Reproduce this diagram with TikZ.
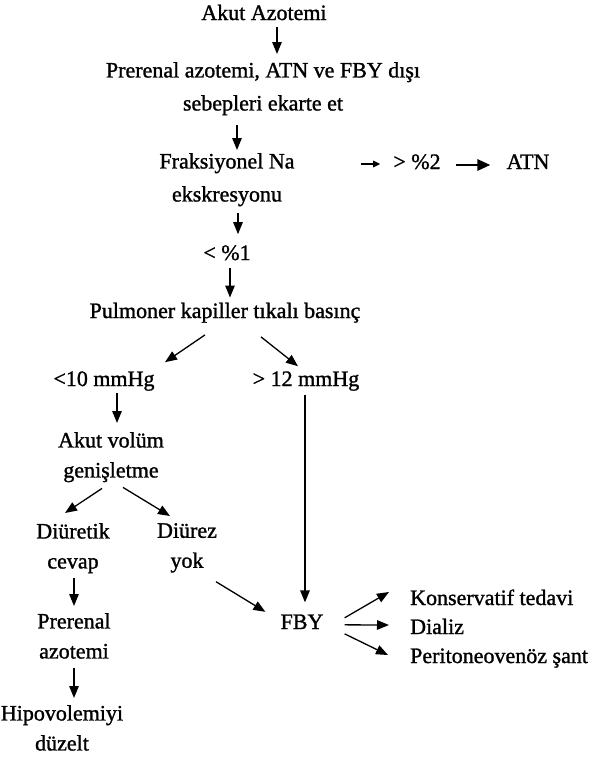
\documentclass[tikz,border=0pt]{standalone}
\usepackage{fontspec}
\setmainfont{Liberation Serif}[UprightFeatures={FakeBold=1.2}]
\usetikzlibrary{arrows.meta}
\tikzset{
  fc label/.style={font=\fontsize{22}{30}\selectfont, inner sep=2pt, anchor=base},
  fc block/.style={font=\fontsize{22}{30}\selectfont, inner sep=2pt,
    align=center, anchor=north},
  fc block wide/.style={fc block, font=\fontsize{22}{33}\selectfont},
  fc arrow/.style={-{Triangle[length=12pt,width=9.5pt]}, line width=1.3pt},
  fc short arrow/.style={-{Triangle[length=7pt,width=6.5pt]}, line width=1.2pt},
  fc heavy arrow/.style={-{Triangle[length=13pt,width=11pt]}, line width=2.8pt}
}

\begin{document}
\begin{tikzpicture}[x=1pt,y=-1pt]
\useasboundingbox (0,0) rectangle (609,758);
% main chain
\node[fc label] (akut) at (264,20) {Akut Azotemi};
\node[fc block wide] (ekarte) at (263,60) {Prerenal azotemi, ATN ve FBY dışı\\sebepleri ekarte et};
\node[fc block wide] (fena) at (227,151) {Fraksiyonel Na\\ekskresyonu};
\node[fc label] (gt2) at (417,169) {> \%2};
\node[fc label] (atn) at (528,169) {ATN};
\node[fc label] (lt1) at (227,260) {< \%1};
\node[fc label] (pkb) at (225,318) {Pulmoner kapiller tıkalı basınç};
\node[fc label] (lo10) at (104,386) {<10 mmHg};
\node[fc label] (hi12) at (306,386) {> 12 mmHg};
% left branch
\node[fc block] (avg) at (111,430) {Akut volüm\\genişletme};
\node[fc block] (dcev) at (73,521) {Diüretik\\cevap};
\node[fc block] (dyok) at (187,521) {Diürez\\yok};
\node[fc block] (pren) at (74,611) {Prerenal\\azotemi};
\node[fc block] (hipo) at (62,703) {Hipovolemiyi\\düzelt};
% right branch
\node[fc label] (fby) at (302,629) {FBY};
\node[fc label, anchor=base west] (kons) at (408,605) {Konservatif tedavi};
\node[fc label, anchor=base west] (dial) at (408,634) {Dializ};
\node[fc label, anchor=base west] (peri) at (408,663) {Peritoneovenöz şant};

\draw[fc arrow] ([xshift=13pt,yshift=-5pt]akut.south) -- ([xshift=14pt,yshift=6pt]ekarte.north);
\draw[fc arrow] ([xshift=-26pt,yshift=-8pt]ekarte.south) -- ([xshift=10pt,yshift=1pt]fena.north);
\draw[fc short arrow] ([xshift=64pt,yshift=-13pt]fena.north east) -- ([xshift=-11pt,yshift=5pt]gt2.base west);
\draw[fc heavy arrow] ([xshift=13pt,yshift=4pt]gt2.base east) -- ([xshift=-14pt,yshift=4pt]atn.base west);
\draw[fc arrow] ([xshift=11pt,yshift=-5pt]fena.south) -- ([xshift=11pt,yshift=9pt]lt1.north);
\draw[fc arrow] ([xshift=3pt,yshift=-6pt]lt1.south) -- ([xshift=5pt,yshift=3pt]pkb.north);
\draw[fc arrow] ([xshift=-20pt,yshift=-10pt]pkb.south) -- ([xshift=61pt,yshift=7pt]lo10.north);
\draw[fc arrow] ([xshift=36pt,yshift=-12pt]pkb.south) -- ([xshift=-8pt,yshift=3pt]hi12.north);
\draw[fc arrow] ([xshift=13pt]lo10.south) -- ([xshift=6pt,yshift=7pt]avg.north);
\draw[fc arrow] ([xshift=-9pt,yshift=-4pt]avg.south) -- ([xshift=-8pt,yshift=8pt]dcev.north);
\draw[fc arrow] ([xshift=12pt,yshift=-3pt]avg.south) -- ([xshift=-17pt,yshift=5pt]dyok.north);
\draw[fc arrow] ([xshift=1pt,yshift=-3pt]dcev.south) -- ([yshift=5pt]pren.north);
\draw[fc arrow] ([yshift=-7pt]pren.south) -- ([xshift=12pt,yshift=5pt]hipo.north);
\draw[fc arrow] ([xshift=-1pt,yshift=-2pt]hi12.south) -- ([xshift=3pt,yshift=10pt]fby.north);
\draw[fc arrow] ([xshift=29pt,yshift=-7pt]dyok.south) -- ([xshift=-13pt,yshift=10pt]fby.west);
\draw[fc arrow] ([xshift=19pt,yshift=4pt]fby.east) -- ([xshift=-19pt,yshift=13pt]kons.base west);
\draw[fc arrow] ([xshift=19pt,yshift=-3pt]fby.east) -- ([xshift=-19pt,yshift=9pt]dial.base west);
\draw[fc arrow] ([xshift=19pt,yshift=-12pt]fby.east) -- ([xshift=-20pt,yshift=8pt]peri.base west);
\end{tikzpicture}
\end{document}
